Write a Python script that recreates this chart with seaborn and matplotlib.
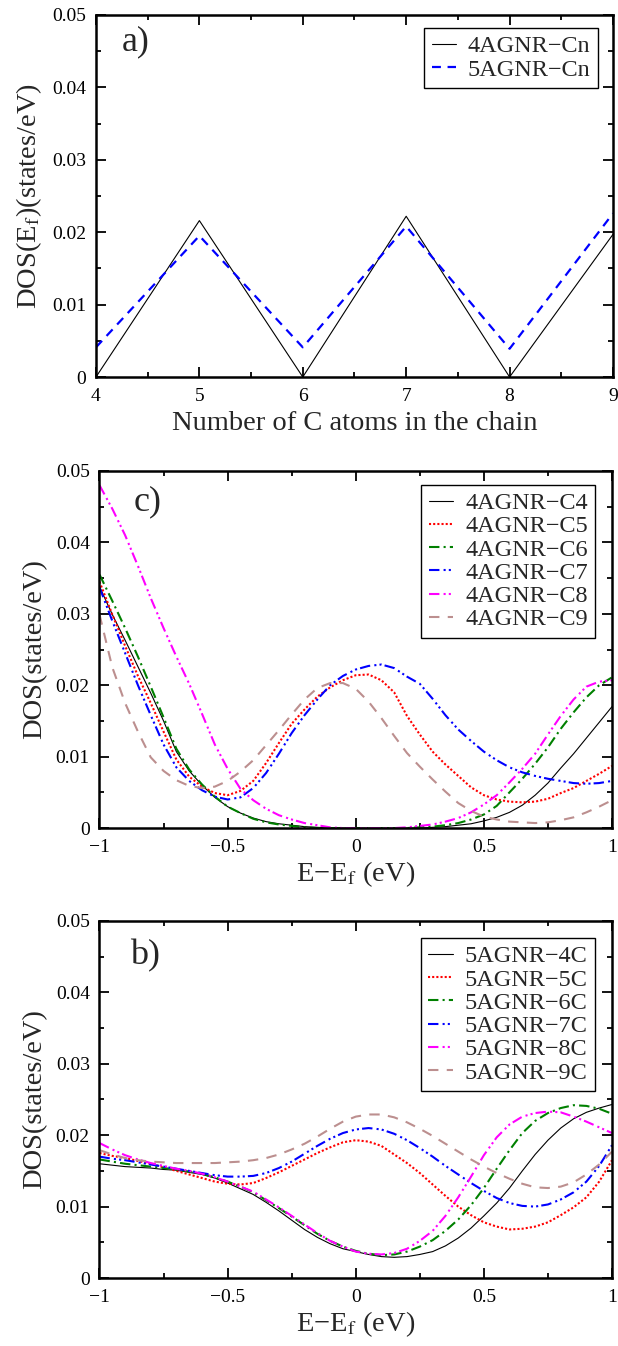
import numpy as np
import matplotlib.pyplot as plt
import matplotlib.ticker as mticker
import seaborn as sns

# ---- data ----
n_atoms = [4, 5, 6, 7, 8, 9]
dos_4agnr_cn = [0.0, 0.0216, 0.0, 0.0222, 0.0, 0.0197]
dos_5agnr_cn = [0.0041, 0.0195, 0.0041, 0.0208, 0.0039, 0.0226]

energy = [-1.0, -0.95, -0.9, -0.85, -0.8, -0.75, -0.7, -0.65, -0.6, -0.55, -0.5,
          -0.45, -0.4, -0.35, -0.3, -0.25, -0.2, -0.15, -0.1, -0.05, 0.0,
          0.05, 0.1, 0.15, 0.2, 0.25, 0.3, 0.35, 0.4, 0.45, 0.5,
          0.55, 0.6, 0.65, 0.7, 0.75, 0.8, 0.85, 0.9, 0.95, 1.0]

# panel c) 4AGNR-Cn
c_labels = ["4AGNR\u2212C4", "4AGNR\u2212C5", "4AGNR\u2212C6",
            "4AGNR\u2212C7", "4AGNR\u2212C8", "4AGNR\u2212C9"]
c_c4 = [.0338, .0299, .0263, .0226, .0189, .0150, .0107, .0080, .0060, .0043, .0030,
        .0021, .0014, .0009, .0006, .0004, .0002, .0001, .0000, .0000, .0000,
        .0000, .0000, .0000, .0000, .0000, .0001, .0002, .0004, .0006, .0010,
        .0015, .0022, .0032, .0046, .0063, .0084, .0104, .0126, .0148, .0170]
c_c5 = [.0345, .0299, .0255, .0213, .0175, .0135, .0096, .0072, .0058, .0049, .0046,
        .0052, .0066, .0091, .0119, .0146, .0166, .0184, .0197, .0207, .0214,
        .0215, .0207, .0190, .0157, .0131, .0107, .0089, .0073, .0057, .0046,
        .0040, .0037, .0036, .0037, .0041, .0049, .0056, .0066, .0076, .0087]
c_c6 = [.0355, .0318, .0280, .0240, .0198, .0155, .0111, .0082, .0061, .0044, .0030,
        .0021, .0013, .0008, .0005, .0003, .0001, .0000, .0000, .0000, .0000,
        .0000, .0000, .0000, .0000, .0001, .0002, .0004, .0007, .0012, .0019,
        .0031, .0050, .0069, .0090, .0113, .0139, .0162, .0183, .0200, .0211]
c_c7 = [.0337, .0290, .0245, .0200, .0158, .0117, .0085, .0066, .0053, .0044, .0040,
        .0043, .0056, .0077, .0104, .0133, .0158, .0180, .0200, .0213, .0222,
        .0227, .0229, .0224, .0212, .0202, .0181, .0158, .0138, .0122, .0107,
        .0095, .0085, .0078, .0073, .0069, .0066, .0063, .0062, .0063, .0066]
c_c8 = [.0480, .0447, .0410, .0367, .0322, .0280, .0240, .0202, .0160, .0117, .0083,
        .0055, .0039, .0027, .0018, .0012, .0007, .0004, .0001, .0000, .0000,
        .0000, .0000, .0000, .0001, .0003, .0005, .0009, .0014, .0022, .0033,
        .0046, .0064, .0083, .0104, .0131, .0157, .0180, .0198, .0205, .0207]
c_c9 = [.0299, .0225, .0175, .0135, .0099, .0080, .0067, .0059, .0056, .0058, .0066,
        .0079, .0095, .0116, .0137, .0159, .0180, .0196, .0203, .0203, .0195,
        .0177, .0154, .0129, .0105, .0086, .0068, .0051, .0035, .0024, .0016,
        .0012, .0009, .0008, .0007, .0008, .0011, .0015, .0022, .0030, .0039]

# panel b) 5AGNR-nC
b_labels = ["5AGNR\u22124C", "5AGNR\u22125C", "5AGNR\u22126C",
            "5AGNR\u22127C", "5AGNR\u22128C", "5AGNR\u22129C"]
b_4c = [.0160, .0158, .0156, .0155, .0154, .0152, .0151, .0148, .0145, .0140, .0133,
        .0125, .0117, .0106, .0094, .0081, .0068, .0057, .0048, .0041, .0037,
        .0033, .0030, .0029, .0030, .0033, .0037, .0045, .0056, .0070, .0087,
        .0105, .0126, .0150, .0173, .0193, .0210, .0223, .0232, .0238, .0243]
b_5c = [.0175, .0171, .0168, .0164, .0160, .0155, .0150, .0145, .0140, .0135, .0132,
        .0131, .0133, .0140, .0148, .0157, .0166, .0175, .0183, .0190, .0193,
        .0191, .0185, .0173, .0161, .0147, .0131, .0115, .0100, .0088, .0078,
        .0072, .0068, .0069, .0072, .0078, .0088, .0099, .0113, .0135, .0165]
b_6c = [.0166, .0163, .0160, .0158, .0156, .0154, .0152, .0149, .0146, .0141, .0135,
        .0128, .0120, .0109, .0098, .0086, .0074, .0062, .0052, .0044, .0038,
        .0034, .0032, .0033, .0037, .0044, .0053, .0066, .0082, .0102, .0126,
        .0153, .0179, .0203, .0220, .0231, .0238, .0242, .0241, .0237, .0230]
b_7c = [.0170, .0167, .0165, .0162, .0159, .0156, .0153, .0150, .0147, .0144, .0142,
        .0142, .0143, .0147, .0154, .0163, .0174, .0185, .0195, .0203, .0208,
        .0210, .0208, .0202, .0193, .0182, .0170, .0157, .0145, .0133, .0122,
        .0112, .0105, .0101, .0100, .0103, .0110, .0120, .0135, .0157, .0186]
b_8c = [.0189, .0180, .0172, .0166, .0161, .0157, .0153, .0150, .0146, .0141, .0135,
        .0128, .0121, .0110, .0099, .0087, .0075, .0063, .0052, .0044, .0037,
        .0034, .0033, .0035, .0041, .0052, .0066, .0087, .0113, .0142, .0172,
        .0197, .0215, .0226, .0231, .0233, .0232, .0226, .0219, .0211, .0203]
b_9c = [.0179, .0173, .0168, .0165, .0163, .0162, .0161, .0161, .0161, .0161, .0162,
        .0163, .0165, .0168, .0173, .0180, .0188, .0198, .0209, .0219, .0226,
        .0229, .0229, .0225, .0218, .0209, .0199, .0188, .0177, .0166, .0156,
        .0147, .0139, .0132, .0127, .0126, .0128, .0134, .0145, .0159, .0177]

dos_ticks = [0, 0.01, 0.02, 0.03, 0.04, 0.05]
dos_ticklabels = ["0", "0.01", "0.02", "0.03", "0.04", "0.05"]
e_ticks = [-1, -0.5, 0, 0.5, 1]
e_ticklabels = ["\u22121", "\u22120.5", "0", "0.5", "1"]

# line looks shared by panels c and b
colors = ["black", "red", "green", "blue", "magenta", "rosybrown"]
styles = ["-", (0, (1, 1)), (0, (5, 2, 1, 2)), (0, (5, 2, 1, 1.5, 1, 1.5)),
          (0, (5, 2, 1, 1.5, 1, 1.5)), (0, (5, 4))]
widths = [0.8, 1.5, 1.5, 1.5, 1.5, 1.5]

sns.set_theme(style="ticks")
plt.rcParams["font.family"] = ["Liberation Serif", "DejaVu Serif"]
plt.rcParams["mathtext.fontset"] = "stix"
plt.rcParams["axes.linewidth"] = 1.8
plt.rcParams["axes.edgecolor"] = "black"

TICK_FS = 14
LABEL_FS = 20.5
LEG_FS = 17.5
PANEL_FS = 26


def style_axes(ax, xmaj, xmin, xlim, xticklabels):
    ax.set_xlim(*xlim)
    ax.set_ylim(0, 0.05)
    ax.set_xticks(xmaj)
    ax.set_xticklabels(xticklabels)
    ax.set_yticks(dos_ticks)
    ax.set_yticklabels(dos_ticklabels)
    ax.xaxis.set_minor_locator(mticker.MultipleLocator(xmin))
    ax.yaxis.set_minor_locator(mticker.MultipleLocator(0.005))
    ax.tick_params(which="both", direction="in", top=True, right=True,
                   color="black", width=1.3, labelsize=TICK_FS, labelcolor="black")
    ax.tick_params(which="major", length=7)
    ax.tick_params(which="minor", length=3.5)
    ax.tick_params(axis="x", which="major", pad=8)
    ax.tick_params(axis="y", which="major", pad=7)
    for sp in ax.spines.values():
        sp.set_visible(True)
        sp.set_linewidth(1.8)


def add_legend(ax, anchor):
    leg = ax.legend(loc="upper right", bbox_to_anchor=anchor, borderaxespad=0,
                    fontsize=LEG_FS, frameon=True, fancybox=False, framealpha=1,
                    edgecolor="black", handlelength=1.0, handletextpad=0.5,
                    labelspacing=0.05, borderpad=0.3)
    leg.get_frame().set_linewidth(1.0)
    return leg


fig = plt.figure(figsize=(6.18, 13.46), dpi=100)

# ---- panel a ----
ax_a = fig.add_axes([0.1553, 0.7199, 0.8366, 0.2690])
sns.lineplot(x=n_atoms, y=dos_4agnr_cn, ax=ax_a, color="black", lw=0.8,
             label="4AGNR\u2212Cn")
sns.lineplot(x=n_atoms, y=dos_5agnr_cn, ax=ax_a, color="blue", lw=1.6,
             linestyle=(0, (4, 3)), label="5AGNR\u2212Cn")
style_axes(ax_a, n_atoms, 0.5, (4, 9), [str(n) for n in n_atoms])
ax_a.set_xlabel("Number of C atoms in the chain", fontsize=LABEL_FS, labelpad=4)
ax_a.set_ylabel("DOS(E$_\\mathrm{f}$)(states/eV)", fontsize=LABEL_FS, labelpad=6)
add_legend(ax_a, (0.971, 0.964))
ax_a.text(0.05, 0.97, "a)", transform=ax_a.transAxes, fontsize=PANEL_FS,
          va="top", ha="left")

# ---- panel c ----
ax_c = fig.add_axes([0.1610, 0.3848, 0.8293, 0.2653])
for ys, lab, col, ls, lw in zip([c_c4, c_c5, c_c6, c_c7, c_c8, c_c9], c_labels,
                                colors, styles, widths):
    sns.lineplot(x=energy, y=ys, ax=ax_c, color=col, lw=lw, linestyle=ls, label=lab)
style_axes(ax_c, e_ticks, 0.25, (-1, 1), e_ticklabels)
ax_c.set_xlabel("E\u2212E$_\\mathrm{f}$ (eV)", fontsize=LABEL_FS, labelpad=2)
ax_c.set_ylabel("DOS(states/eV)", fontsize=LABEL_FS, labelpad=6)
add_legend(ax_c, (0.967, 0.961))
ax_c.text(0.067, 0.96, "c)", transform=ax_c.transAxes, fontsize=PANEL_FS,
          va="top", ha="left")

# ---- panel b ----
ax_b = fig.add_axes([0.1610, 0.0505, 0.8293, 0.2653])
for ys, lab, col, ls, lw in zip([b_4c, b_5c, b_6c, b_7c, b_8c, b_9c], b_labels,
                                colors, styles, widths):
    sns.lineplot(x=energy, y=ys, ax=ax_b, color=col, lw=lw, linestyle=ls, label=lab)
style_axes(ax_b, e_ticks, 0.25, (-1, 1), e_ticklabels)
ax_b.set_xlabel("E\u2212E$_\\mathrm{f}$ (eV)", fontsize=LABEL_FS, labelpad=2)
ax_b.set_ylabel("DOS(states/eV)", fontsize=LABEL_FS, labelpad=6)
add_legend(ax_b, (0.967, 0.952))
ax_b.text(0.06, 0.95, "b)", transform=ax_b.transAxes, fontsize=PANEL_FS,
          va="top", ha="left")

fig.savefig("out.png", dpi=100)
